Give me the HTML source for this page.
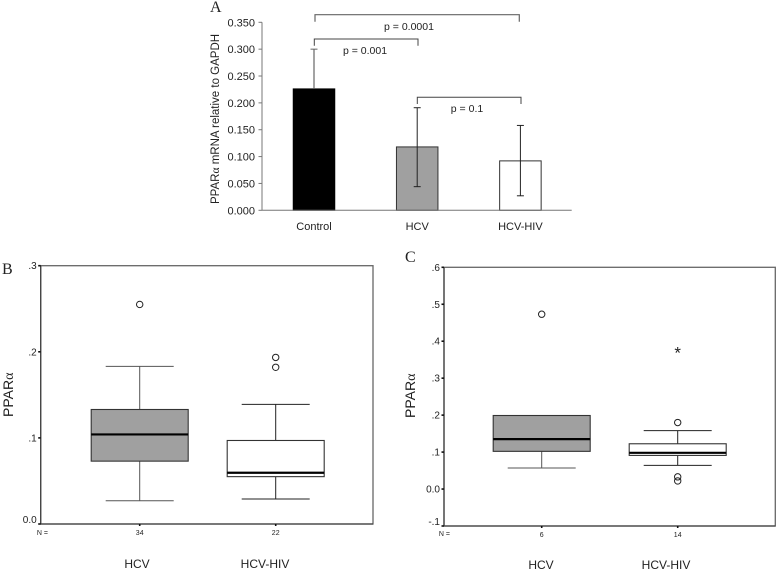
<!DOCTYPE html>
<html>
<head>
<meta charset="utf-8">
<title>PPAR alpha expression</title>
<style>
html,body{margin:0;padding:0;background:#fff;}
svg{display:block;font-family:"Liberation Sans",sans-serif;fill:#222;}
.serif{font-family:"Liberation Serif",serif;font-size:16px;fill:#222;}
.greek{font-family:"Liberation Serif",serif;}
.p{font-size:10.5px;text-anchor:middle;}
</style>
</head>
<body>
<svg id="fig" xmlns="http://www.w3.org/2000/svg" width="777" height="571" viewBox="0 0 777 571">
  <text class="serif" x="210" y="12">A</text>
  <text class="serif" x="2" y="274">B</text>
  <text class="serif" x="405" y="262">C</text>

  <text transform="translate(219,204) rotate(-90)" font-size="11.5">PPAR<tspan class="greek">α</tspan> mRNA relative to GAPDH</text>
  <text transform="translate(13,417) rotate(-90)" font-size="14">PPAR<tspan class="greek">α</tspan></text>
  <text transform="translate(415,418) rotate(-90)" font-size="14">PPAR<tspan class="greek">α</tspan></text>

  <path d="M315 21.7V14.7H519.3V21.7" fill="none" stroke="#666" stroke-width="1.2"/>
  <path d="M314.3 45.7V39H418V45.7" fill="none" stroke="#444" stroke-width="1"/>
  <path d="M417.3 104V97.3H521V104" fill="none" stroke="#444" stroke-width="1"/>
  <text class="p" x="409" y="30">p = 0.0001</text>
  <text class="p" x="365" y="54">p = 0.001</text>
  <text class="p" x="467" y="112">p = 0.1</text>

  <text x="48" y="535" font-size="7" text-anchor="end">N =</text>
  <text x="450" y="536" font-size="7" text-anchor="end">N =</text>
</svg>
<script>
// Panel A
const barCategories = ['Control', 'HCV', 'HCV-HIV'];
const barMeans = [0.226, 0.118, 0.092];
const barErrHigh = [0.300, 0.191, 0.158];
const barErrLow = [0.152, 0.044, 0.027];
const barFills = ['#000000', '#a0a0a0', '#ffffff'];
const barTicks = [0, 0.05, 0.1, 0.15, 0.2, 0.25, 0.3, 0.35];
const barTickLabels = ['0.000', '0.050', '0.100', '0.150', '0.200', '0.250', '0.300', '0.350'];

// Panel B
const bCategories = ['HCV', 'HCV-HIV'];
const bCounts = ['34', '22'];
const bQ1 = [0.073, 0.055];
const bMedian = [0.104, 0.0595];
const bQ3 = [0.133, 0.097];
const bWhiskerLow = [0.027, 0.029];
const bWhiskerHigh = [0.183, 0.139];
const bOutliers = [[0.255], [0.1935, 0.182]];
const bExtremes = [[], []];
const bTicks = [0, 0.1, 0.2, 0.3];
const bTickLabels = ['0.0', '.1', '.2', '.3'];

// Panel C
const cCategories = ['HCV', 'HCV-HIV'];
const cCounts = ['6', '14'];
const cQ1 = [0.102, 0.091];
const cMedian = [0.135, 0.098];
const cQ3 = [0.199, 0.1225];
const cWhiskerLow = [0.057, 0.064];
const cWhiskerHigh = [0.199, 0.158];
const cOutliers = [[0.473], [0.18, 0.033, 0.022]];
const cExtremes = [[], [0.375]];
const cTicks = [-0.1, 0, 0.1, 0.2, 0.3, 0.4, 0.5, 0.6];
const cTickLabels = ['-.1', '0.0', '.1', '.2', '.3', '.4', '.5', '.6'];

const boxFills = ['#a0a0a0', '#ffffff'];
const boxStrokes = ['#555555', '#222222'];

const svg = document.getElementById('fig');
function add(tag, attrs, name, text) {
  const el = document.createElementNS('http://www.w3.org/2000/svg', tag);
  for (const k in attrs) el.setAttribute(k, attrs[k]);
  
  
  if (text !== undefined) el.textContent = text;
  svg.appendChild(el);
  return el;
}
function linearScale(d0, d1, r0, r1) {
  return function (v) { return r0 + (v - d0) * (r1 - r0) / (d1 - d0); };
}
function seg(x1, y1, x2, y2, stroke, width, name) {
  return add('line', {x1: x1, y1: y1, x2: x2, y2: y2, stroke: stroke, 'stroke-width': width}, name);
}

// ---- Panel A: bar chart ----
(function () {
  const left = 262, right = 571.7, y = linearScale(0, 0.35, 210.3, 22.3);
  const x = function (i) { return 314 + i * 103.2; };
  const barW = 41.5;
  barMeans.forEach(function (m, i) {
    const slug = barCategories[i].toLowerCase();
    const c = i === 0 ? '#666' : '#222';
    add('rect', {x: x(i) - barW / 2, y: y(m), width: barW, height: y(0) - y(m), fill: barFills[i], stroke: i === 0 ? '#000' : '#333', 'stroke-width': 1}, 'bar-' + slug);
    if (i === 0) {
      seg(x(i), y(barErrHigh[i]), x(i), y(m), c, 1.2, 'error-bar-upper-' + slug);
    } else {
      seg(x(i), y(barErrHigh[i]), x(i), y(barErrLow[i]), c, 1, 'error-bar-' + slug);
      seg(x(i) - 3.5, y(barErrLow[i]), x(i) + 3.5, y(barErrLow[i]), c, 1, 'error-cap-low-' + slug);
    }
    seg(x(i) - 3.5, y(barErrHigh[i]), x(i) + 3.5, y(barErrHigh[i]), c, 1, 'error-cap-high-' + slug);
    add('text', {x: x(i), y: 230, 'font-size': 11, 'text-anchor': 'middle'}, 'x-tick-label-a', barCategories[i]);
  });
  seg(left, y(0.35), left, y(0), '#777', 1, 'panel-a-y-axis');
  seg(left, y(0), right, y(0), '#777', 1, 'panel-a-x-axis');
  barTicks.forEach(function (t, i) {
    seg(258.5, y(t), left, y(t), '#777', 1, 'y-tick-a');
    add('text', {x: 255, y: y(t) + 4, 'font-size': 11, 'text-anchor': 'end'}, 'y-tick-label-a', barTickLabels[i]);
  });
})();

// ---- Panels B and C: box plots ----
function boxPanel(o) {
  const y = o.y, bw = 97, capW = 68;
  add('rect', {x: o.left, y: o.top, width: o.right - o.left, height: o.bottom - o.top, fill: 'none', stroke: '#666', 'stroke-width': 1.3}, o.id + '-plot-frame');
  seg(o.left, o.top, o.left, o.bottom, '#444', 1.3, o.id + '-y-axis');
  seg(o.left, o.bottom, o.right, o.bottom, '#444', 1.3, o.id + '-x-axis');
  o.ticks.forEach(function (t, i) {
    const raise = i === 0 ? 4.5 : 0;
    seg(o.left - 2.5, y(t), o.left, y(t), '#111', 1.6, o.id + '-y-tick');
    add('text', {x: o.left - 4, y: y(t) + 3.5 - raise, 'font-size': 10, 'text-anchor': 'end'}, o.id + '-y-tick-label', o.tickLabels[i]);
  });
  o.cats.forEach(function (c, i) {
    const x = o.x[i], s = boxStrokes[i], slug = c.toLowerCase();
    seg(x, o.bottom, x, o.bottom + 2, '#111', 1.6, o.id + '-x-tick');
    add('text', {x: x, y: o.bottom + 11, 'font-size': 7, 'text-anchor': 'middle'}, o.id + '-count-' + slug, o.counts[i]);
    add('text', {x: o.labelX[i], y: o.labelY, 'font-size': 12, 'text-anchor': 'middle'}, o.id + '-category-' + slug, c);
    seg(x, y(o.wHigh[i]), x, y(o.wLow[i]), s, 1, o.id + '-whisker-' + slug);
    if (o.wHigh[i] > o.q3[i]) seg(x - capW / 2, y(o.wHigh[i]), x + capW / 2, y(o.wHigh[i]), s, 1, o.id + '-whisker-cap-high-' + slug);
    seg(x - capW / 2, y(o.wLow[i]), x + capW / 2, y(o.wLow[i]), s, 1, o.id + '-whisker-cap-low-' + slug);
    add('rect', {x: x - bw / 2, y: y(o.q3[i]), width: bw, height: y(o.q1[i]) - y(o.q3[i]), fill: boxFills[i], stroke: '#333', 'stroke-width': 1.1}, o.id + '-box-' + slug);
    seg(x - bw / 2, y(o.med[i]), x + bw / 2, y(o.med[i]), '#000', 2.2, o.id + '-median-' + slug);
    o.outliers[i].forEach(function (v) {
      add('circle', {cx: x, cy: y(v), r: 3.2, fill: 'none', stroke: '#222', 'stroke-width': 1}, o.id + '-outlier-' + slug);
    });
    o.extremes[i].forEach(function (v) {
      add('text', {x: x, y: y(v) + 8, 'font-size': 17, 'text-anchor': 'middle'}, o.id + '-extreme-' + slug, '*');
    });
  });
}
boxPanel({
  id: 'panel-b', left: 40.7, right: 373, top: 265.7, bottom: 524,
  y: linearScale(0, 0.3, 524, 265.7), x: [139.7, 275.7], labelX: [137, 265], labelY: 568,
  cats: bCategories, counts: bCounts, q1: bQ1, med: bMedian, q3: bQ3, wLow: bWhiskerLow, wHigh: bWhiskerHigh,
  outliers: bOutliers, extremes: bExtremes, ticks: bTicks, tickLabels: bTickLabels
});
boxPanel({
  id: 'panel-c', left: 444, right: 775.3, top: 267.3, bottom: 526,
  y: linearScale(-0.1, 0.6, 526, 267.3), x: [541.7, 677.7], labelX: [541, 666], labelY: 569,
  cats: cCategories, counts: cCounts, q1: cQ1, med: cMedian, q3: cQ3, wLow: cWhiskerLow, wHigh: cWhiskerHigh,
  outliers: cOutliers, extremes: cExtremes, ticks: cTicks, tickLabels: cTickLabels
});
</script>
</body>
</html>
